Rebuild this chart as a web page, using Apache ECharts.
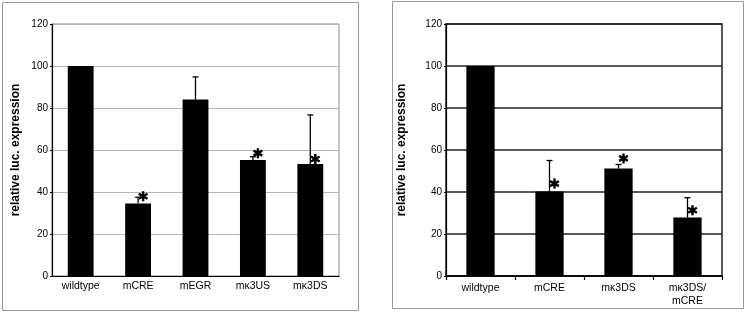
<!DOCTYPE html>
<html>
<head>
<meta charset="utf-8">
<script src="https://cdn.jsdelivr.net/npm/echarts@6/dist/echarts.min.js"></script>
<style>
  html, body { margin: 0; padding: 0; background: #fff; }
  #chart { width: 750px; height: 313px; }
</style>
</head>
<body>
<div id="chart"></div>
<script>
// left panel
var leftCats = ['wildtype', 'mCRE', 'mEGR', 'mκ3US', 'mκ3DS']
var leftMeans = [100, 34.5, 84, 55.2, 53.3]
var leftErrTop = [100, 37.5, 94.8, 56.8, 76.7]
var leftStars = [null, 38, null, 58.5, 55.7]

// right panel
var rightCats = ['wildtype', 'mCRE', 'mκ3DS', 'mκ3DS/\nmCRE']
var rightMeans = [100, 40.2, 51.2, 27.8]
var rightErrTop = [100, 55, 53.1, 37.3]
var rightStars = [null, 44, 56, 31.3]

var yTicks = [0, 20, 40, 60, 80, 100, 120]

var font = 'Liberation Sans, Arial, sans-serif'

function errorSeries(xi, vals, tops) {
  return {
    type: 'custom',
    xAxisIndex: xi,
    yAxisIndex: xi,
    z: 5,
    data: vals.map(function (v, i) { return [i, v, tops[i]] }),
    renderItem: function (params, api) {
      if (api.value(2) <= api.value(1)) return null
      var lo = api.coord([api.value(0), api.value(1)])
      var hi = api.coord([api.value(0), api.value(2)])
      var st = { stroke: '#000', lineWidth: 1.3 }
      return {
        type: 'group',
        children: [
          { type: 'line', shape: { x1: lo[0], y1: lo[1], x2: hi[0], y2: hi[1] }, style: st },
          { type: 'line', shape: { x1: hi[0] - 3, y1: hi[1], x2: hi[0] + 3, y2: hi[1] }, style: st }
        ]
      }
    }
  }
}

// six-armed asterisk
var starPath = 'path://M-1.2,-5L1.2,-5L1.2,5L-1.2,5Z' +
  'M3.73,-3.54L4.93,-1.46L-3.73,3.54L-4.93,1.46Z' +
  'M-4.93,-1.46L-3.73,-3.54L4.93,1.46L3.73,3.54Z'

function starSeries(xi, stars) {
  return {
    type: 'scatter',
    xAxisIndex: xi,
    yAxisIndex: xi,
    z: 6,
    symbol: starPath,
    symbolSize: 10,
    symbolOffset: [5, 0],
    itemStyle: { color: '#000', opacity: 1 },
    data: stars.map(function (v, i) { return v == null ? null : [i, v] }).filter(function (d) { return d })
  }
}

function yAxis(gi, gap, gridColor, gridWidth) {
  return {
    type: 'value',
    gridIndex: gi,
    min: yTicks[0],
    max: yTicks[yTicks.length - 1],
    interval: 20,
    name: 'relative luc. expression',
    nameLocation: 'middle',
    nameGap: gap,
    nameTextStyle: { fontFamily: font, fontWeight: 'bold', fontSize: 12, color: '#000' },
    axisLine: { show: true, lineStyle: { color: '#000', width: 1.2 } },
    axisTick: { show: true, length: 2, lineStyle: { color: '#000' } },
    axisLabel: { fontFamily: font, fontSize: 10, color: '#000', margin: 4 },
    splitLine: { show: true, lineStyle: { color: gridColor, width: gridWidth } }
  }
}

var myChart = echarts.init(document.getElementById('chart'))
myChart.setOption({
  animation: false,
  backgroundColor: '#fff',
  graphic: [
    { type: 'rect', shape: { x: 2.5, y: 2.5, width: 356, height: 308 }, style: { fill: null, stroke: '#999', lineWidth: 1 } },
    { type: 'rect', shape: { x: 392.5, y: 1.5, width: 351, height: 307 }, style: { fill: null, stroke: '#999', lineWidth: 1 } }
  ],
  grid: [
    { left: 52, top: 24, width: 287, height: 252, show: true, borderColor: '#888', borderWidth: 1 },
    { left: 446, top: 24, width: 276, height: 252, show: true, borderColor: '#222', borderWidth: 1.5 }
  ],
  xAxis: [
    {
      type: 'category',
      gridIndex: 0,
      data: leftCats,
      axisLine: { lineStyle: { color: '#000', width: 1.2 } },
      axisTick: { show: false },
      axisLabel: { fontFamily: font, fontSize: 10.5, color: '#000', margin: 5, interval: 0 }
    },
    {
      type: 'category',
      gridIndex: 1,
      data: rightCats,
      axisLine: { lineStyle: { color: '#000', width: 1.5 } },
      axisTick: { show: true, length: 4, lineStyle: { color: '#000', width: 1.2 } },
      axisLabel: { fontFamily: font, fontSize: 10.5, color: '#000', margin: 6, interval: 0, lineHeight: 13 }
    }
  ],
  yAxis: [
    yAxis(0, 30, '#b5b5b5', 1),
    yAxis(1, 38, '#222', 1.6)
  ],
  series: [
    {
      type: 'bar',
      xAxisIndex: 0,
      yAxisIndex: 0,
      data: leftMeans,
      barWidth: '45%',
      itemStyle: { color: '#000' }
    },
    {
      type: 'bar',
      xAxisIndex: 1,
      yAxisIndex: 1,
      data: rightMeans,
      barWidth: '41%',
      itemStyle: { color: '#000' }
    },
    errorSeries(0, leftMeans, leftErrTop),
    errorSeries(1, rightMeans, rightErrTop),
    starSeries(0, leftStars),
    starSeries(1, rightStars)
  ]
})
</script>
</body>
</html>
